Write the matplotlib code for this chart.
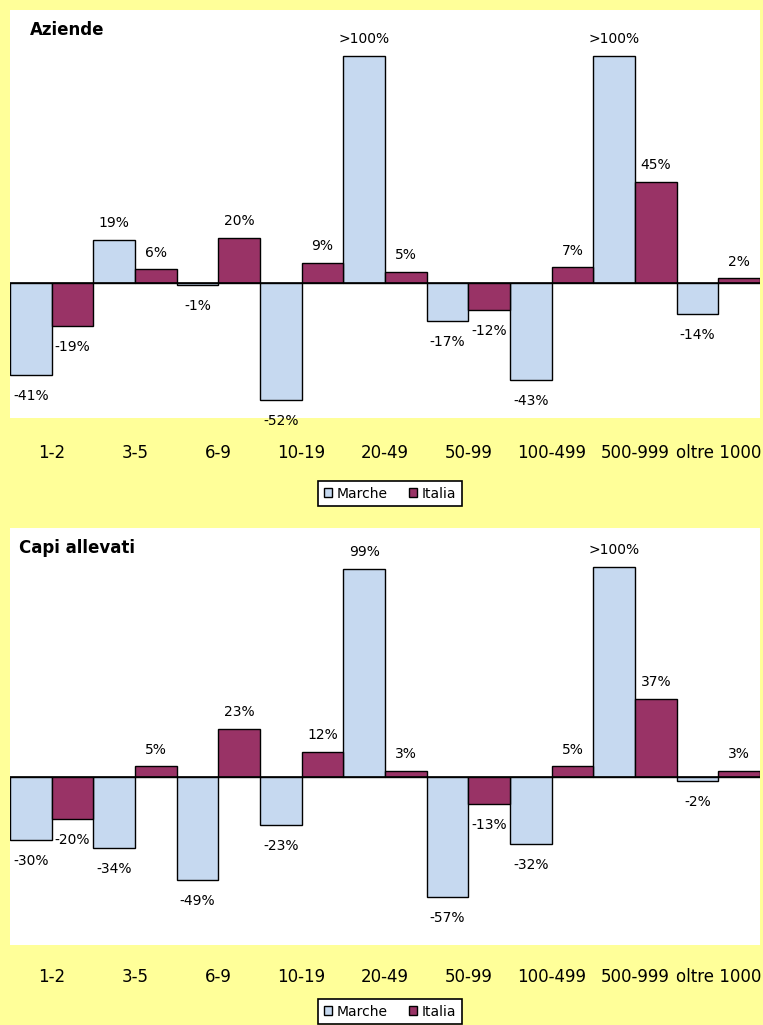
import matplotlib
matplotlib.use("Agg")
import matplotlib.pyplot as plt
from matplotlib.patches import Patch
from matplotlib.transforms import blended_transform_factory

categories = ["1-2", "3-5", "6-9", "10-19", "20-49", "50-99", "100-499", "500-999", "oltre 1000"]
series_names = ["Marche", "Italia"]

# Aziende
aziende_marche = [-41, 19, -1, -52, 101, -17, -43, 101, -14]
aziende_italia = [-19, 6, 20, 9, 5, -12, 7, 45, 2]
aziende_marche_labels = ["-41%", "19%", "-1%", "-52%", ">100%", "-17%", "-43%", ">100%", "-14%"]
aziende_italia_labels = ["-19%", "6%", "20%", "9%", "5%", "-12%", "7%", "45%", "2%"]

# Capi allevati
capi_marche = [-30, -34, -49, -23, 99, -57, -32, 100, -2]
capi_italia = [-20, 5, 23, 12, 3, -13, 5, 37, 3]
capi_marche_labels = ["-30%", "-34%", "-49%", "-23%", "99%", "-57%", "-32%", ">100%", "-2%"]
capi_italia_labels = ["-20%", "5%", "23%", "12%", "3%", "-13%", "5%", "37%", "3%"]

C_MARCHE = "#C6D9F0"
C_ITALIA = "#993366"
BG = "#FFFF99"

W, H = 763, 1025
fig = plt.figure(figsize=(W / 100, H / 100), dpi=100, facecolor=BG)


def px_axes(x0, y0, x1, y1):
    return fig.add_axes([x0 / W, 1 - y1 / H, (x1 - x0) / W, (y1 - y0) / H])


def panel(ax, title, m_vals, i_vals, m_labs, i_labs, ylim, cat_y_px, ax_h_px, title_xy):
    ax.set_facecolor("white")
    n = len(categories)
    xs = list(range(n))
    ax.bar([x - 0.25 for x in xs], m_vals, width=0.5, color=C_MARCHE, edgecolor="black", linewidth=1.0, zorder=2)
    ax.bar([x + 0.25 for x in xs], i_vals, width=0.5, color=C_ITALIA, edgecolor="black", linewidth=1.0, zorder=2)
    ax.axhline(0, color="black", linewidth=1.2, zorder=3)
    ax.set_xlim(-0.5, n - 0.5)
    ax.set_ylim(*ylim)
    for s in ax.spines.values():
        s.set_visible(False)
    ax.set_xticks([])
    ax.set_yticks([])
    for vals, labs, off in ((m_vals, m_labs, -0.25), (i_vals, i_labs, 0.25)):
        for x, v, lab in zip(xs, vals, labs):
            if v >= 0:
                ax.annotate(lab, (x + off, v), xytext=(0, 7), textcoords="offset points",
                            ha="center", va="bottom", fontsize=10, zorder=4, annotation_clip=False)
            else:
                ax.annotate(lab, (x + off, v), xytext=(0, -10), textcoords="offset points",
                            ha="center", va="top", fontsize=10, zorder=4, annotation_clip=False)
    tr = blended_transform_factory(ax.transData, ax.transAxes)
    for x, c in zip(xs, categories):
        ax.text(x, -cat_y_px / ax_h_px, c, transform=tr, ha="center", va="center", fontsize=12)
    ax.text(title_xy[0], title_xy[1], title, transform=fig.transFigure, ha="left", va="center",
            fontsize=12, fontweight="bold")


ax1 = px_axes(10, 10, 760, 418)
panel(ax1, "Aziende", aziende_marche, aziende_italia, aziende_marche_labels, aziende_italia_labels,
      (-60, 121.3), 35, 408, (30 / W, 1 - 30 / H))

ax2 = px_axes(10, 528, 760, 945)
panel(ax2, "Capi allevati", capi_marche, capi_italia, capi_marche_labels, capi_italia_labels,
      (-80, 118.5), 32, 417, (19 / W, 1 - 548 / H))

handles = [Patch(facecolor=C_MARCHE, edgecolor="black", linewidth=1.0),
           Patch(facecolor=C_ITALIA, edgecolor="black", linewidth=1.0)]
for ytop in (481, 999):
    leg = fig.legend(handles, series_names, loc="upper center",
                     bbox_to_anchor=(390 / W, 1 - ytop / H), bbox_transform=fig.transFigure,
                     ncol=2, fontsize=10, frameon=True, fancybox=False, borderaxespad=0,
                     handlelength=0.6, handleheight=0.6, handletextpad=0.35, columnspacing=1.5,
                     borderpad=0.4)
    fr = leg.get_frame()
    fr.set_edgecolor("black")
    fr.set_linewidth(1.2)
    fr.set_facecolor("white")
    fr.set_alpha(1)

fig.savefig("out.png", dpi=100, facecolor=BG)
